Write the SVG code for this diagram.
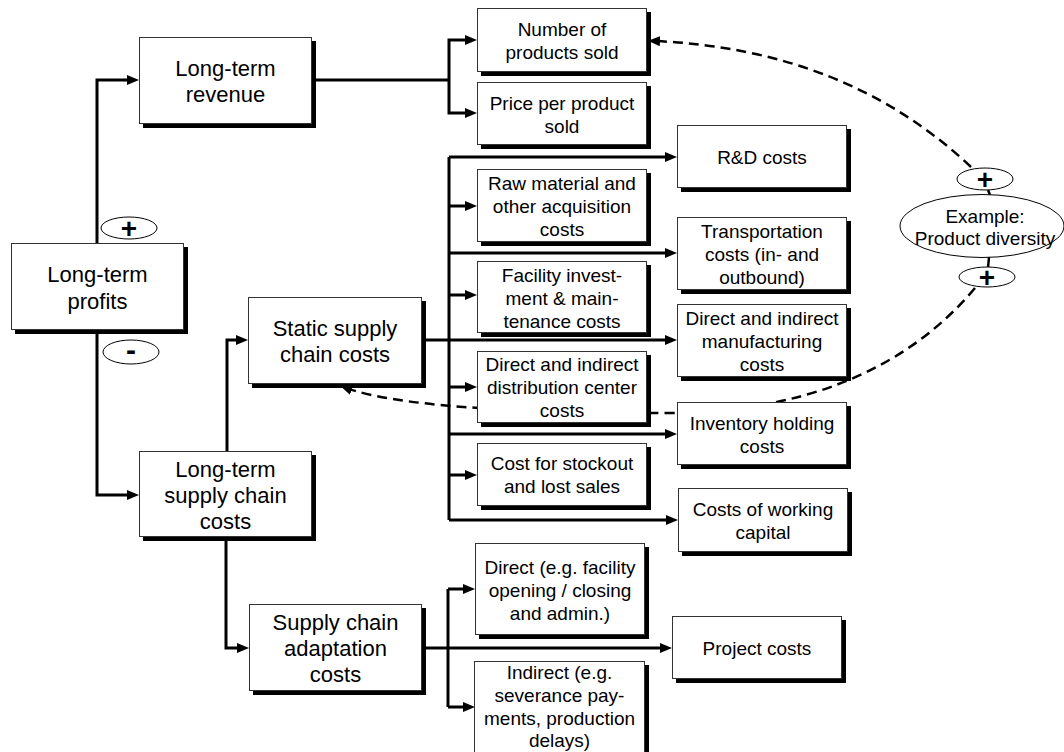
<svg xmlns="http://www.w3.org/2000/svg" width="1064" height="752" viewBox="0 0 1064 752">
<style>
.sh{fill:#000}
.bx{fill:#fff;stroke:#333;stroke-width:1}
.el{fill:#fff;stroke:#000;stroke-width:1}
.t{font-family:"Liberation Sans",Arial,sans-serif;text-anchor:middle;fill:#000}
.L{font-size:22px}
.S{font-size:19px}
.sg{font-size:28px;font-weight:bold}
.c{fill:none;stroke:#000;stroke-width:3}
.d{fill:none;stroke:#000;stroke-width:2.5;stroke-dasharray:10 6}
</style>
<defs>
<marker id="ah" markerUnits="userSpaceOnUse" markerWidth="12" markerHeight="10" refX="6" refY="5" orient="auto">
<path d="M0,0 L12,5 L0,10 z" fill="#000"/>
</marker>
<marker id="dh" markerUnits="userSpaceOnUse" markerWidth="12" markerHeight="10" refX="6" refY="5" orient="auto">
<path d="M0,0 L12,5 L0,10 z" fill="#000"/>
</marker>
</defs>
<rect width="1064" height="752" fill="#fff"/>
<g id="connectors">
<path class="c" d="M97,243 V80 H133" marker-end="url(#ah)"/>
<path class="c" d="M97,330 V495 H133" marker-end="url(#ah)"/>
<path class="c" d="M312,80 H449"/>
<path class="c" d="M449,80 V40 H471" marker-end="url(#ah)"/>
<path class="c" d="M449,80 V113 H471" marker-end="url(#ah)"/>
<path class="c" d="M227,451 V340 H242" marker-end="url(#ah)"/>
<path class="c" d="M226,536 V648 H243" marker-end="url(#ah)"/>
<path class="c" d="M422,340 H671" marker-end="url(#ah)"/>
<path class="c" d="M449,157 V520"/>
<path class="c" d="M449,157 H671" marker-end="url(#ah)"/>
<path class="c" d="M449,253 H671" marker-end="url(#ah)"/>
<path class="c" d="M449,434 H671" marker-end="url(#ah)"/>
<path class="c" d="M449,520 H672" marker-end="url(#ah)"/>
<path class="c" d="M449,206 H471" marker-end="url(#ah)"/>
<path class="c" d="M449,295 H471" marker-end="url(#ah)"/>
<path class="c" d="M449,387 H471" marker-end="url(#ah)"/>
<path class="c" d="M449,475 H471" marker-end="url(#ah)"/>
<path class="c" d="M422,648 H666" marker-end="url(#ah)"/>
<path class="c" d="M448,589 V707"/>
<path class="c" d="M448,589 H469" marker-end="url(#ah)"/>
<path class="c" d="M448,707 H469" marker-end="url(#ah)"/>
<path class="d" d="M971,167 Q846,49 654,41" marker-end="url(#dh)"/>
<path class="d" d="M975,288 Q870,413 663,413 Q417,413 346,388" marker-end="url(#dh)"/>
<path class="d" d="M988,190 L990,195"/>
<path class="d" d="M989,257 L988,268"/>
</g>
<g id="profits">
<rect class="sh" x="15" y="247" width="173" height="87"/>
<rect class="bx" x="11.5" y="243.5" width="172" height="86"/>
<text class="t L" x="97.5" y="282">Long-term</text>
<text class="t L" x="97.5" y="309">profits</text>
</g>
<g id="revenue">
<rect class="sh" x="143" y="41" width="173" height="87"/>
<rect class="bx" x="139.5" y="37.5" width="172" height="86"/>
<text class="t L" x="225.5" y="76">Long-term</text>
<text class="t L" x="225.5" y="102">revenue</text>
</g>
<g id="ltsc">
<rect class="sh" x="143" y="455" width="173" height="86"/>
<rect class="bx" x="139.5" y="451.5" width="172" height="85"/>
<text class="t L" x="225.5" y="477">Long-term</text>
<text class="t L" x="225.5" y="503">supply chain</text>
<text class="t L" x="225.5" y="529">costs</text>
</g>
<g id="static">
<rect class="sh" x="252" y="301" width="174" height="87"/>
<rect class="bx" x="248.5" y="297.5" width="173" height="86"/>
<text class="t L" x="335" y="336">Static supply</text>
<text class="t L" x="335" y="362">chain costs</text>
</g>
<g id="adapt">
<rect class="sh" x="253" y="608" width="173" height="87"/>
<rect class="bx" x="249.5" y="604.5" width="172" height="86"/>
<text class="t L" x="335.5" y="630">Supply chain</text>
<text class="t L" x="335.5" y="656">adaptation</text>
<text class="t L" x="335.5" y="682">costs</text>
</g>
<g id="numsold">
<rect class="sh" x="481" y="12" width="170" height="64"/>
<rect class="bx" x="477.5" y="8.5" width="169" height="63"/>
<text class="t S" x="562" y="36">Number of</text>
<text class="t S" x="562" y="59">products sold</text>
</g>
<g id="price">
<rect class="sh" x="481" y="86" width="170" height="63"/>
<rect class="bx" x="477.5" y="82.5" width="169" height="62"/>
<text class="t S" x="562" y="109.5">Price per product</text>
<text class="t S" x="562" y="132.5">sold</text>
</g>
<g id="raw">
<rect class="sh" x="481" y="173" width="170" height="73"/>
<rect class="bx" x="477.5" y="169.5" width="169" height="72"/>
<text class="t S" x="562" y="189.5">Raw material and</text>
<text class="t S" x="562" y="212.5">other acquisition</text>
<text class="t S" x="562" y="235.5">costs</text>
</g>
<g id="facility">
<rect class="sh" x="481" y="265" width="170" height="72"/>
<rect class="bx" x="477.5" y="261.5" width="169" height="71"/>
<text class="t S" x="562" y="281.5">Facility invest-</text>
<text class="t S" x="562" y="304.5">ment &amp; main-</text>
<text class="t S" x="562" y="327.5">tenance costs</text>
</g>
<g id="distribution">
<rect class="sh" x="481" y="355" width="170" height="72"/>
<rect class="bx" x="477.5" y="351.5" width="169" height="71"/>
<text class="t S" x="562" y="371">Direct and indirect</text>
<text class="t S" x="562" y="394">distribution center</text>
<text class="t S" x="562" y="417">costs</text>
</g>
<g id="stockout">
<rect class="sh" x="481" y="447" width="170" height="63"/>
<rect class="bx" x="477.5" y="443.5" width="169" height="62"/>
<text class="t S" x="562" y="470">Cost for stockout</text>
<text class="t S" x="562" y="493">and lost sales</text>
</g>
<g id="rd">
<rect class="sh" x="681" y="129" width="170" height="63"/>
<rect class="bx" x="677.5" y="125.5" width="169" height="62"/>
<text class="t S" x="762" y="164">R&amp;D costs</text>
</g>
<g id="transport">
<rect class="sh" x="681" y="221" width="170" height="73"/>
<rect class="bx" x="677.5" y="217.5" width="169" height="72"/>
<text class="t S" x="762" y="237.5">Transportation</text>
<text class="t S" x="762" y="260.5">costs (in- and</text>
<text class="t S" x="762" y="283.5">outbound)</text>
</g>
<g id="manufacturing">
<rect class="sh" x="681" y="308" width="170" height="73"/>
<rect class="bx" x="677.5" y="304.5" width="169" height="72"/>
<text class="t S" x="762" y="324.5">Direct and indirect</text>
<text class="t S" x="762" y="347.5">manufacturing</text>
<text class="t S" x="762" y="370.5">costs</text>
</g>
<g id="inventory">
<rect class="sh" x="681" y="406" width="170" height="63"/>
<rect class="bx" x="677.5" y="402.5" width="169" height="62"/>
<text class="t S" x="762" y="429.5">Inventory holding</text>
<text class="t S" x="762" y="452.5">costs</text>
</g>
<g id="working">
<rect class="sh" x="682" y="492" width="170" height="64"/>
<rect class="bx" x="678.5" y="488.5" width="169" height="63"/>
<text class="t S" x="763" y="516">Costs of working</text>
<text class="t S" x="763" y="539">capital</text>
</g>
<g id="direct">
<rect class="sh" x="479" y="547" width="170" height="92"/>
<rect class="bx" x="475.5" y="543.5" width="169" height="91"/>
<text class="t S" x="560" y="573.5">Direct (e.g. facility</text>
<text class="t S" x="560" y="596.5">opening / closing</text>
<text class="t S" x="560" y="619.5">and admin.)</text>
</g>
<g id="indirect">
<rect class="sh" x="478" y="665" width="171" height="100"/>
<rect class="bx" x="474.5" y="661.5" width="170" height="100"/>
<text class="t S" x="559.5" y="679">Indirect (e.g.</text>
<text class="t S" x="559.5" y="702">severance pay-</text>
<text class="t S" x="559.5" y="724.5">ments, production</text>
<text class="t S" x="559.5" y="747">delays)</text>
</g>
<g id="project">
<rect class="sh" x="676" y="620" width="170" height="63"/>
<rect class="bx" x="672.5" y="616.5" width="169" height="62"/>
<text class="t S" x="757" y="654.5">Project costs</text>
</g>
<g id="example">
<ellipse class="el" cx="982" cy="226" rx="82" ry="31.5"/>
<text class="t S" x="985" y="223">Example:</text>
<text class="t S" x="985" y="245">Product diversity</text>
</g>
<g id="plus-profit">
<ellipse class="el" cx="129" cy="228" rx="28" ry="11"/>
<text class="t sg" x="129" y="238">+</text>
</g>
<g id="minus-profit">
<ellipse class="el" cx="131" cy="352" rx="28" ry="12"/>
<text class="t sg" x="131" y="360" style="font-size:30px">-</text>
</g>
<g id="plus-top">
<ellipse class="el" cx="985" cy="179" rx="28" ry="11"/>
<text class="t sg" x="985" y="189">+</text>
</g>
<g id="plus-bottom">
<ellipse class="el" cx="987" cy="277" rx="28" ry="10"/>
<text class="t sg" x="987" y="287">+</text>
</g>
</svg>
